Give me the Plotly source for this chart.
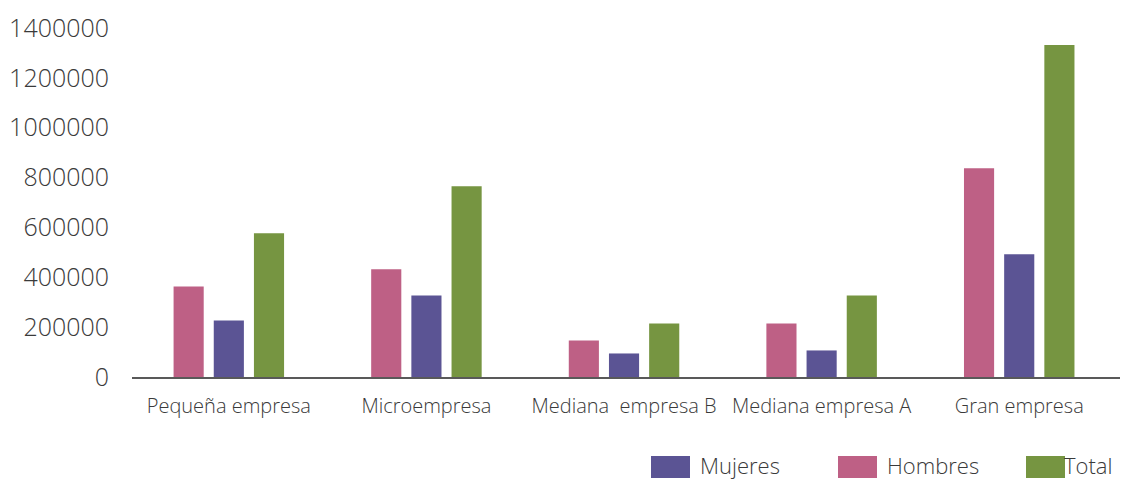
import plotly.graph_objects as go

# Employment by company size, split by sex
categories = ["Pequeña empresa", "Microempresa", "Mediana  empresa B",
              "Mediana empresa A", "Gran empresa"]
hombres = [363500, 432000, 146600, 215000, 837600]
mujeres = [227000, 327000, 94400, 106500, 492000]
total = [576500, 765000, 215000, 327000, 1331700]

series_names = ["Hombres", "Mujeres", "Total"]
series_values = [hombres, mujeres, total]
series_colors = ["#BE6085", "#5B5494", "#769541"]

y_ticks = [0, 200000, 400000, 600000, 800000, 1000000, 1200000, 1400000]

FONT = "Open Sans"
TEXT_COLOR = "#3a3a3a"

W, H = 1122, 481
M_L, M_R, M_T, M_B = 132, 2, 28, 104
PW, PH = W - M_L - M_R, H - M_T - M_B

fig = go.Figure()
for name, vals, col in zip(series_names, series_values, series_colors):
    fig.add_trace(go.Bar(x=categories, y=vals, name=name, marker_color=col,
                         marker_line_width=0, showlegend=False))

fig.update_layout(
    width=W, height=H,
    margin=dict(l=M_L, r=M_R, t=M_T, b=M_B),
    paper_bgcolor="white", plot_bgcolor="white",
    barmode="group", bargap=0.39, bargroupgap=0.25,
    font=dict(family=FONT, color=TEXT_COLOR, weight=300),
)
fig.update_xaxes(
    type="category", range=[-0.49, 4.51],
    showline=True, linecolor="#595959", linewidth=2,
    showgrid=False, ticks="", ticklabelstandoff=10,
    tickfont=dict(size=20, family=FONT, color=TEXT_COLOR, weight=300),
)
fig.update_yaxes(
    range=[0, 1400000], tickvals=y_ticks, tickformat="d",
    showgrid=False, zeroline=False, showline=False, ticks="",
    ticklabelstandoff=22,
    tickfont=dict(size=25, family=FONT, color=TEXT_COLOR, weight=300),
)

# Legend with wide swatches below the plot, right-aligned
def px_x(px):
    return (px - M_L) / PW

def px_y(py):
    return (M_T + PH - py) / PH

legend_order = [1, 0, 2]  # Mujeres, Hombres, Total
swatch_left = [651, 838, 1026]
swatch_w, sw_top, sw_bot = 39, 456, 478
for idx, left in zip(legend_order, swatch_left):
    fig.add_shape(type="rect", xref="paper", yref="paper",
                  x0=px_x(left), x1=px_x(left + swatch_w),
                  y0=px_y(sw_bot), y1=px_y(sw_top),
                  fillcolor=series_colors[idx], line_width=0)
    fig.add_annotation(xref="paper", yref="paper",
                       x=px_x(left + swatch_w + (8 if idx != 2 else -3)),
                       y=px_y(465),
                       xanchor="left", yanchor="middle", showarrow=False,
                       text=series_names[idx],
                       font=dict(size=22, family=FONT, color=TEXT_COLOR, weight=300))

fig.write_html("out.html")
